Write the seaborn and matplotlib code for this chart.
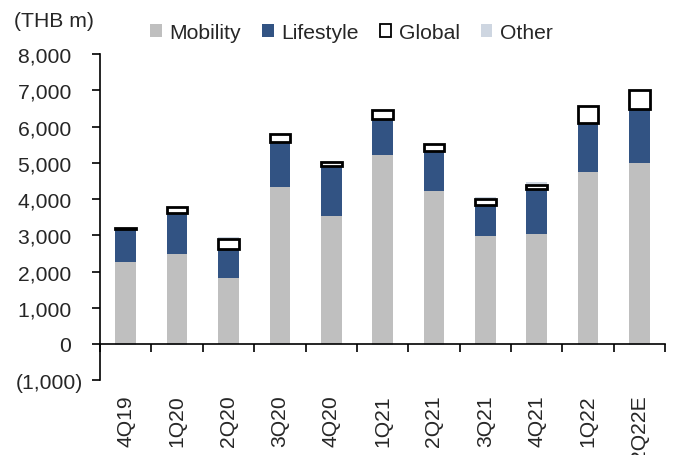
import numpy as np
import pandas as pd
import matplotlib
matplotlib.use('Agg')
import matplotlib.pyplot as plt
import seaborn as sns
from matplotlib.patches import Patch
from matplotlib.ticker import FuncFormatter, FixedLocator

quarters = ['4Q19', '1Q20', '2Q20', '3Q20', '4Q20', '1Q21', '2Q21', '3Q21', '4Q21', '1Q22', '2Q22E']
mobility = [2270, 2480, 1820, 4320, 3540, 5210, 4210, 2990, 3040, 4760, 4990]
lifestyle = [900, 1130, 800, 1250, 1370, 1010, 1130, 850, 1250, 1350, 1510]
global_ = [40, 170, 290, 230, 110, 230, 170, 170, 110, 450, 500]
other = [-40, -40, 40, -40, 30, -40, -40, 40, 60, -40, -40]

c_mob = '#BFBFBF'
c_life = '#325383'
c_other = '#CED6E1'

df = pd.DataFrame({'Quarter': quarters, 'Mobility': mobility, 'Lifestyle': lifestyle,
                   'Global': global_, 'Other': other})

sns.set_style('white')
plt.rcParams['font.family'] = ['Liberation Sans', 'DejaVu Sans']
plt.rcParams['font.size'] = 15.2

fig, ax = plt.subplots(figsize=(6.76, 4.56), dpi=100)
fig.subplots_adjust(left=0.148, right=0.984, top=0.879, bottom=0.164)

w = 0.4
mob = np.array(mobility, dtype=float)
life = np.array(lifestyle, dtype=float)
glb = np.array(global_, dtype=float)
oth = np.array(other, dtype=float)
oth_pos = np.where(oth > 0, oth, 0)
oth_neg = np.where(oth < 0, oth, 0)

sns.barplot(data=df, x='Quarter', y='Mobility', order=quarters, color=c_mob, width=w,
            errorbar=None, saturation=1, linewidth=0, ax=ax)
sns.barplot(x=quarters, y=life, order=quarters, color=c_life, width=w, errorbar=None,
            saturation=1, linewidth=0, bottom=mob, ax=ax)
sns.barplot(x=quarters, y=oth_pos, order=quarters, color=c_other, width=w, errorbar=None,
            saturation=1, linewidth=0, bottom=mob + life + glb, ax=ax)
sns.barplot(x=quarters, y=oth_neg, order=quarters, color=c_other, width=w, errorbar=None,
            saturation=1, linewidth=0, ax=ax)
sns.barplot(x=quarters, y=glb, order=quarters, color='white', width=w, errorbar=None,
            saturation=1, edgecolor='black', linewidth=2, bottom=mob + life, ax=ax)

ax.set_xlim(-0.5, 10.5)
ax.set_ylim(-1000, 8000)
ax.set_yticks(range(-1000, 8001, 1000))
# excel-style accounting format: positives keep room for the closing bracket
ax.yaxis.set_major_formatter(FuncFormatter(
    lambda v, p: f'({abs(v):,.0f})' if v < 0 else f'{v:,.0f}\u2007'))

for s in ['top', 'right']:
    ax.spines[s].set_visible(False)
ax.spines['left'].set_color('black')
ax.spines['left'].set_linewidth(1.2)
ax.spines['bottom'].set_position(('data', 0))
ax.spines['bottom'].set_color('black')
ax.spines['bottom'].set_linewidth(1.2)

ax.xaxis.set_minor_locator(FixedLocator(np.arange(-0.5, 11, 1)))
ax.tick_params(axis='x', which='major', bottom=True, length=0, pad=36, labelrotation=90)
ax.tick_params(axis='x', which='minor', bottom=True, direction='out', length=6, width=1.2, color='black')
ax.tick_params(axis='y', which='major', left=True, direction='out', length=6, width=1.2,
               color='black', pad=6)
ax.set_xlabel('')
ax.set_ylabel('')

fig.text(0.02, 0.953, '(THB m)', ha='left', va='center')

handles = [Patch(facecolor=c_mob, edgecolor='none'),
           Patch(facecolor=c_life, edgecolor='none'),
           Patch(facecolor='white', edgecolor='black', linewidth=1.3),
           Patch(facecolor=c_other, edgecolor='none')]
fig.legend(handles, ['Mobility', 'Lifestyle', 'Global', 'Other'], loc='center',
           bbox_to_anchor=(0.52, 0.927), ncol=4, frameon=False, handlelength=0.55,
           handleheight=0.55, handletextpad=0.35, columnspacing=1.0, borderpad=0)

fig.savefig('out.png', dpi=100)
